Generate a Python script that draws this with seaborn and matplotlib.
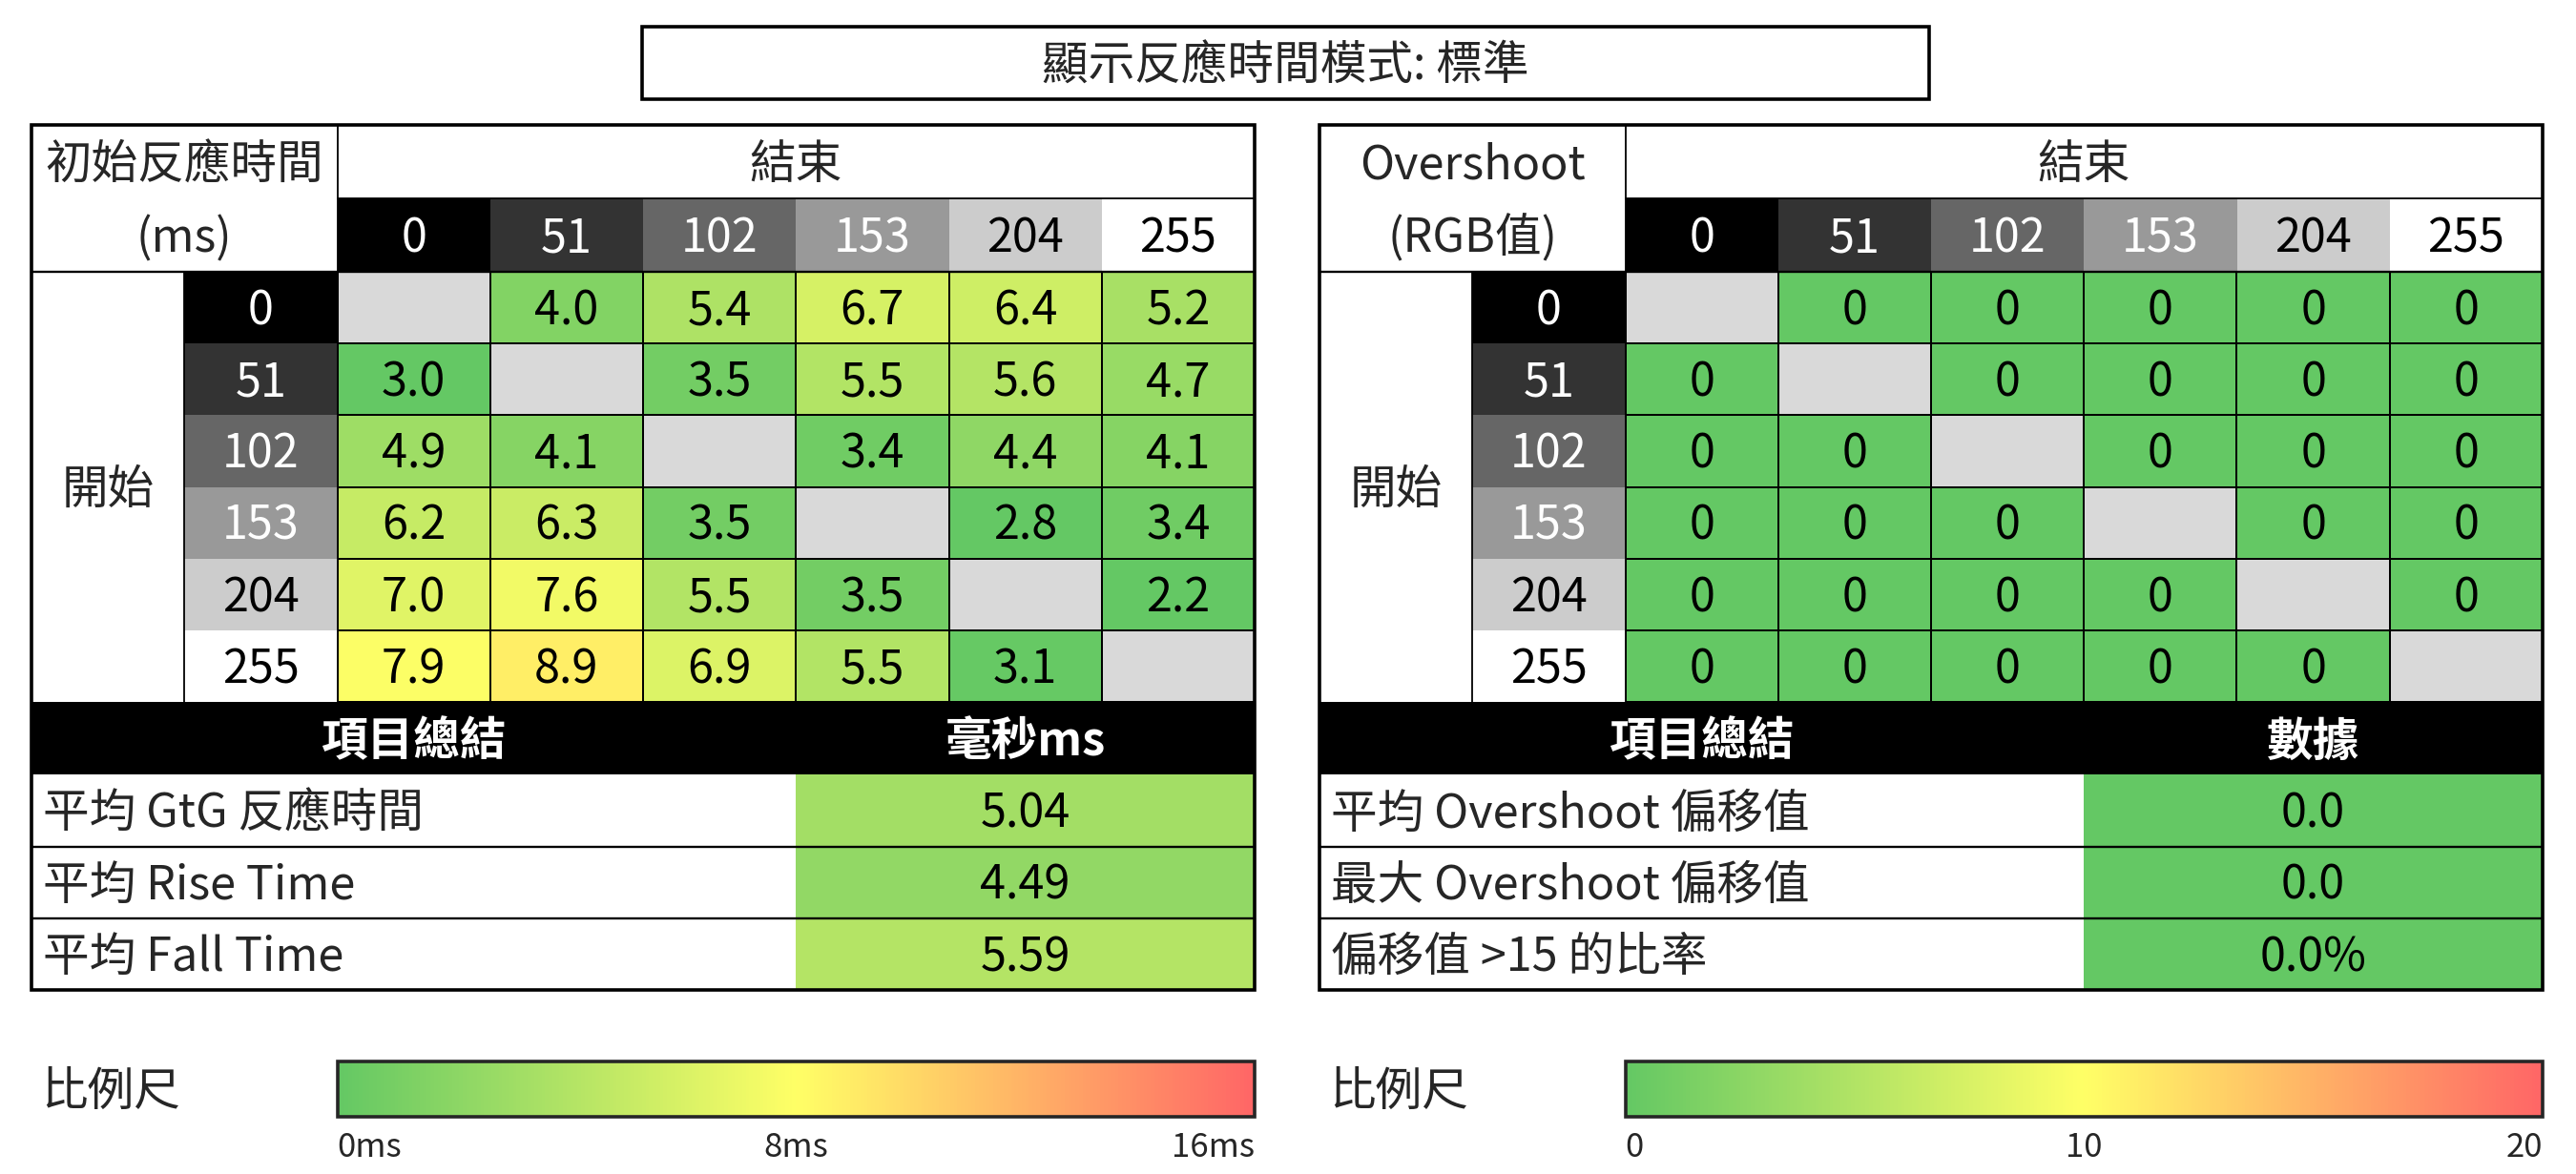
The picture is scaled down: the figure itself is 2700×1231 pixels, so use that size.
import numpy as np
import pandas as pd
import matplotlib
matplotlib.use("Agg")
import matplotlib.pyplot as plt
import seaborn as sns
from matplotlib.patches import Rectangle
from matplotlib.colors import LinearSegmentedColormap, Normalize, TwoSlopeNorm
from matplotlib.cm import ScalarMappable

# ---------------- data ----------------
title = "顯示反應時間模式: 標準"
levels = [0, 51, 102, 153, 204, 255]
level_labels = ["0", "51", "102", "153", "204", "255"]

rt_values = [
    [np.nan, 4.0, 5.4, 6.7, 6.4, 5.2],
    [3.0, np.nan, 3.5, 5.5, 5.6, 4.7],
    [4.9, 4.1, np.nan, 3.4, 4.4, 4.1],
    [6.2, 6.3, 3.5, np.nan, 2.8, 3.4],
    [7.0, 7.6, 5.5, 3.5, np.nan, 2.2],
    [7.9, 8.9, 6.9, 5.5, 3.1, np.nan],
]
os_values = [
    [np.nan, 0, 0, 0, 0, 0],
    [0, np.nan, 0, 0, 0, 0],
    [0, 0, np.nan, 0, 0, 0],
    [0, 0, 0, np.nan, 0, 0],
    [0, 0, 0, 0, np.nan, 0],
    [0, 0, 0, 0, 0, np.nan],
]
rt_summary_labels = ["平均 GtG 反應時間", "平均 Rise Time", "平均 Fall Time"]
rt_summary_values = [5.04, 4.49, 5.59]
rt_summary_text = ["5.04", "4.49", "5.59"]
os_summary_labels = ["平均 Overshoot 偏移值", "最大 Overshoot 偏移值", "偏移值 >15 的比率"]
os_summary_values = [0.0, 0.0, 0.0]
os_summary_text = ["0.0", "0.0", "0.0%"]

rt_ticks = [0, 8, 16]
rt_tick_labels = ["0ms", "8ms", "16ms"]
os_ticks = [0, 10, 20]
os_tick_labels = ["0", "10", "20"]

# ---------------- style ----------------
sns.set_theme(style="white")
plt.rcParams["font.family"] = ["Noto Sans CJK TC", "DejaVu Sans"]

GREEN, YELLOW, RED = "#64c864", "#ffff66", "#ff6666"
cmap = LinearSegmentedColormap.from_list("gyr", [GREEN, YELLOW, RED])
header_fills = ["#000000", "#333333", "#666666", "#999999", "#cccccc", "#ffffff"]
header_text = ["white", "white", "white", "white", "black", "black"]
EMPTY = "#d9d9d9"

W, H = 2700, 1231
fig = plt.figure(figsize=(W / 100, H / 100), dpi=100)
fig.patch.set_facecolor("white")

bg = fig.add_axes([0, 0, 1, 1], zorder=0)
bg.set_xlim(0, W); bg.set_ylim(H, 0); bg.axis("off")
top = fig.add_axes([0, 0, 1, 1], zorder=3)
top.set_xlim(0, W); top.set_ylim(H, 0); top.axis("off"); top.patch.set_alpha(0)

FS = 35
FW = "medium"
DY = 4          # small downward text nudge (px)
CW = 160.25
Y0, Y1, Y2 = 131, 208, 285      # header rows
YD = 736                          # data bottom
YS = [736, 812, 887.5, 962.5, 1038]
RH = (YD - Y2) / 6
LW_OUT = 2.6
LW_IN = 1.3


def px_axes(x, y, w, h, z=1):
    return fig.add_axes([x / W, 1 - (y + h) / H, w / W, h / H], zorder=z)


def txt(x, y, s, **kw):
    kw.setdefault("fontsize", FS)
    kw.setdefault("fontweight", FW)
    kw.setdefault("ha", "center")
    kw.setdefault("va", "center")
    bg.text(x, y + DY, s, **kw)


def nudge(ax, cell_px):
    for t in ax.texts:
        x, y = t.get_position()
        t.set_position((x, y + DY / cell_px))


def draw_table(x0, corner1, corner2, values, fmt, norm, sum_head, sum_labels,
               sum_vals, sum_text):
    xs = [x0 + i * CW for i in range(9)]
    txt((xs[0] + xs[2]) / 2, (Y0 + Y1) / 2, corner1)
    txt((xs[0] + xs[2]) / 2, (Y1 + Y2) / 2, corner2)
    txt((xs[2] + xs[8]) / 2, (Y0 + Y1) / 2, "結束")
    for i, lab in enumerate(level_labels):
        bg.add_patch(Rectangle((xs[2 + i], Y1), CW, Y2 - Y1, facecolor=header_fills[i], lw=0))
        txt(xs[2 + i] + CW / 2, (Y1 + Y2) / 2, lab, color=header_text[i])
        ry = Y2 + i * RH
        bg.add_patch(Rectangle((xs[1], ry), CW, RH, facecolor=header_fills[i], lw=0))
        txt(xs[1] + CW / 2, ry + RH / 2, lab, color=header_text[i])
    txt((xs[0] + xs[1]) / 2, (Y2 + YD) / 2, "開始")

    # heatmap of the transition matrix
    df = pd.DataFrame(values, index=level_labels, columns=level_labels)
    hax = px_axes(xs[2], Y2, xs[8] - xs[2], YD - Y2)
    hax.set_facecolor(EMPTY)
    sns.heatmap(df, ax=hax, cmap=cmap, norm=norm, annot=True, fmt=fmt, cbar=False,
                linewidths=LW_IN, linecolor="black",
                annot_kws={"fontsize": FS, "color": "black", "fontweight": FW})
    hax.set_xticks([]); hax.set_yticks([]); hax.set_xlabel(""); hax.set_ylabel("")
    nudge(hax, RH)

    # summary
    bg.add_patch(Rectangle((xs[0], YS[0]), xs[8] - xs[0], YS[1] - YS[0], facecolor="black", lw=0))
    txt((xs[0] + xs[5]) / 2, (YS[0] + YS[1]) / 2, "項目總結", color="white", fontweight="bold")
    txt((xs[5] + xs[8]) / 2, (YS[0] + YS[1]) / 2, sum_head, color="white", fontweight="bold")
    for k, lab in enumerate(sum_labels):
        txt(xs[0] + 12, (YS[k + 1] + YS[k + 2]) / 2, lab, ha="left")
    sdf = pd.DataFrame({"v": sum_vals})
    sax = px_axes(xs[5], YS[1], xs[8] - xs[5], YS[4] - YS[1])
    sns.heatmap(sdf, ax=sax, cmap=cmap, norm=norm, annot=np.array(sum_text).reshape(-1, 1),
                fmt="", cbar=False, linewidths=0,
                annot_kws={"fontsize": FS, "color": "black", "fontweight": FW})
    sax.set_xticks([]); sax.set_yticks([]); sax.set_xlabel(""); sax.set_ylabel("")
    nudge(sax, (YS[4] - YS[1]) / 3)

    # lines
    top.plot([xs[2], xs[8]], [Y1, Y1], color="black", lw=LW_IN)
    top.plot([xs[2], xs[2]], [Y0, YD], color="black", lw=LW_IN)
    top.plot([xs[0], xs[8]], [Y2, Y2], color="black", lw=LW_IN * 1.3)
    top.plot([xs[1], xs[1]], [Y2, YD], color="black", lw=LW_IN)
    for yy in YS[2:4]:
        top.plot([xs[0], xs[8]], [yy, yy], color="black", lw=LW_IN * 1.3)
    top.add_patch(Rectangle((xs[0], Y0), xs[8] - xs[0], YS[4] - Y0, fill=False,
                            edgecolor="black", lw=LW_OUT))


# title
bg.add_patch(Rectangle((673, 28), 2022 - 673, 104 - 28, fill=False, edgecolor="black", lw=LW_OUT))
txt((673 + 2022) / 2, 66, title)

rt_norm = TwoSlopeNorm(vmin=3.0, vcenter=8.0, vmax=16.0)
os_norm = Normalize(vmin=0, vmax=20)

draw_table(33, "初始反應時間", "(ms)", rt_values, ".1f", rt_norm, "毫秒ms",
           rt_summary_labels, rt_summary_values, rt_summary_text)
draw_table(1383, "Overshoot", "(RGB值)", os_values, ".0f", os_norm, "數據",
           os_summary_labels, os_summary_values, os_summary_text)


# colour scales
def scale_bar(x0, vmax, ticks, labels):
    txt(x0 + 10, 1141, "比例尺", ha="left")
    cax = px_axes(x0 + 2 * CW, 1113, 6 * CW, 58)
    sm = ScalarMappable(norm=Normalize(0, vmax), cmap=cmap)
    cb = fig.colorbar(sm, cax=cax, orientation="horizontal")
    cb.set_ticks(ticks)
    cb.set_ticklabels(labels)
    cb.outline.set_linewidth(LW_OUT)
    cax.tick_params(axis="x", length=0, pad=11, labelsize=25)
    tl = cax.get_xticklabels()
    tl[0].set_ha("left")
    tl[-1].set_ha("right")


scale_bar(33, 16, rt_ticks, rt_tick_labels)
scale_bar(1383, 20, os_ticks, os_tick_labels)

fig.savefig("out.png", dpi=100, facecolor="white")
